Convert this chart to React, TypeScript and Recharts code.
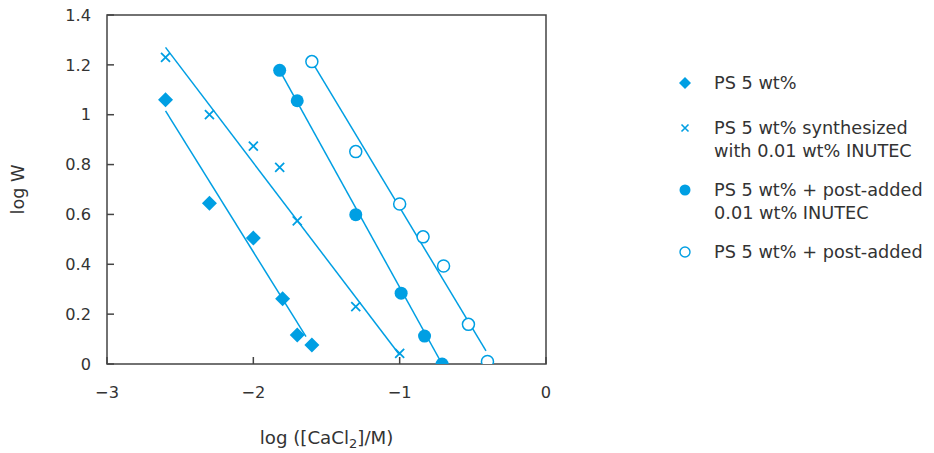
import React from 'react';
import { ScatterChart, Scatter, XAxis, YAxis, ReferenceArea, Label, Legend } from 'recharts';

const BLUE = '#009fe3';
const INK = '#333333';
const FRAME = '#444444';
const FONT = '"DejaVu Sans", "Noto Sans", sans-serif';

// axes
const xTicks = [-3, -2, -1, 0];
const yTicks = [0, 0.2, 0.4, 0.6, 0.8, 1, 1.2, 1.4];

// PS 5 wt%
const ps5 = [
  { x: -2.6, y: 1.06 },
  { x: -2.3, y: 0.645 },
  { x: -2.0, y: 0.505 },
  { x: -1.8, y: 0.262 },
  { x: -1.7, y: 0.116 },
  { x: -1.6, y: 0.076 },
];
const ps5Fit = [
  { x: -2.6, y: 1.015 },
  { x: -1.64, y: 0.11 },
];

// PS 5 wt% synthesized with 0.01 wt% INUTEC
const synth = [
  { x: -2.6, y: 1.23 },
  { x: -2.3, y: 1.0 },
  { x: -2.0, y: 0.874 },
  { x: -1.82, y: 0.789 },
  { x: -1.7, y: 0.574 },
  { x: -1.3, y: 0.23 },
  { x: -1.0, y: 0.043 },
];
const synthFit = [
  { x: -2.6, y: 1.27 },
  { x: -1.0, y: 0.036 },
];

// PS 5 wt% + post-added 0.01 wt% INUTEC
const postInutec = [
  { x: -1.82, y: 1.178 },
  { x: -1.7, y: 1.056 },
  { x: -1.3, y: 0.599 },
  { x: -0.99, y: 0.284 },
  { x: -0.83, y: 0.112 },
  { x: -0.71, y: 0.0 },
];
const postInutecFit = [
  { x: -1.82, y: 1.178 },
  { x: -0.71, y: 0.0 },
];

// PS 5 wt% + post-added
const postAdded = [
  { x: -1.6, y: 1.213 },
  { x: -1.3, y: 0.852 },
  { x: -1.0, y: 0.642 },
  { x: -0.84, y: 0.51 },
  { x: -0.7, y: 0.393 },
  { x: -0.53, y: 0.159 },
  { x: -0.4, y: 0.01 },
];
const postAddedFit = [
  { x: -1.6, y: 1.213 },
  { x: -0.41, y: 0.053 },
];

const legendItems = [
  { kind: 'diamond', lines: ['PS 5 wt%'] },
  { kind: 'cross', lines: ['PS 5 wt% synthesized', 'with 0.01 wt% INUTEC'] },
  { kind: 'dot', lines: ['PS 5 wt% + post-added', '0.01 wt% INUTEC'] },
  { kind: 'ring', lines: ['PS 5 wt% + post-added'] },
];

const Diamond = ({ cx, cy }: any) => (
  <path d={`M${cx},${cy - 7.5}L${cx + 7.5},${cy}L${cx},${cy + 7.5}L${cx - 7.5},${cy}Z`} fill={BLUE} />
);
const Cross = ({ cx, cy }: any) => (
  <path d={`M${cx - 4.5},${cy - 4.5}L${cx + 4.5},${cy + 4.5}M${cx + 4.5},${cy - 4.5}L${cx - 4.5},${cy + 4.5}`} stroke={BLUE} strokeWidth={1.8} />
);
const Dot = ({ cx, cy }: any) => <circle cx={cx} cy={cy} r={6.5} fill={BLUE} />;
const Ring = ({ cx, cy }: any) => <circle cx={cx} cy={cy} r={6} fill="#fff" stroke={BLUE} strokeWidth={1.5} />;
const NoShape = () => <g />;

const legendIcon = (kind: string, cx: number, cy: number) => {
  if (kind === 'diamond')
    return <path d={`M${cx},${cy - 6}L${cx + 6},${cy}L${cx},${cy + 6}L${cx - 6},${cy}Z`} fill={BLUE} />;
  if (kind === 'cross')
    return <path d={`M${cx - 3.5},${cy - 3.5}L${cx + 3.5},${cy + 3.5}M${cx + 3.5},${cy - 3.5}L${cx - 3.5},${cy + 3.5}`} stroke={BLUE} strokeWidth={1.6} />;
  if (kind === 'dot') return <circle cx={cx} cy={cy} r={5.5} fill={BLUE} />;
  return <circle cx={cx} cy={cy} r={5} fill="#fff" stroke={BLUE} strokeWidth={1.4} />;
};

const renderLegend = () => {
  const rows = [23, 68, 130, 192];
  return (
    <svg width={274} height={220} style={{ display: 'block' }}>
      {legendItems.map((item, i) => (
        <g key={i}>
          {legendIcon(item.kind, 25, rows[i])}
          {item.lines.map((line, j) => (
            <text key={j} x={54} y={rows[i] + j * 23} dominantBaseline="central" fontSize={17.7} fill={INK} fontFamily={FONT}>
              {line}
            </text>
          ))}
        </g>
      ))}
    </svg>
  );
};

const XTitle = ({ viewBox }: any) => {
  const cx = viewBox.x + viewBox.width / 2;
  return (
    <text x={cx} y={444} textAnchor="middle" fontSize={18.2} fill={INK} fontFamily={FONT}>
      log ([CaCl<tspan dy={4} fontSize={13}>2</tspan><tspan dy={-4}>]/M)</tspan>
    </text>
  );
};

const fmtX = (v: number) => (v < 0 ? '\u2212' + Math.abs(v) : String(v));

export default function App() {
  const tickStyle = { fontSize: 16.2, fill: INK, fontFamily: FONT };
  return (
    <div style={{ position: 'absolute', left: 0, top: 0, fontFamily: FONT }}>
      <ScatterChart width={934} height={453} margin={{ top: 15, right: 388, bottom: 9, left: 7 }}>
        <XAxis
          type="number"
          dataKey="x"
          domain={[-3, 0]}
          ticks={xTicks}
          tickFormatter={fmtX}
          height={80}
          axisLine={false}
          tickLine={{ stroke: FRAME, strokeWidth: 1.5 }}
          tickSize={-7}
          tickMargin={29}
          tick={tickStyle}
          allowDataOverflow
        >
          <Label content={XTitle} />
        </XAxis>
        <YAxis
          type="number"
          dataKey="y"
          domain={[0, 1.4]}
          ticks={yTicks}
          width={100}
          axisLine={false}
          tickLine={{ stroke: FRAME, strokeWidth: 1.5 }}
          tickSize={-7}
          tickMargin={23}
          tick={tickStyle}
          allowDataOverflow
        >
          <Label
            value="log W"
            angle={-90}
            position="insideLeft"
            offset={11}
            style={{ textAnchor: 'middle', fontSize: 17.7, fill: INK, fontFamily: FONT }}
          />
        </YAxis>
        <ReferenceArea x1={-3} x2={0} y1={0} y2={1.4} fill="none" stroke={FRAME} strokeWidth={1.5} />
        <Scatter data={ps5Fit} line={{ stroke: BLUE, strokeWidth: 1.5 }} shape={NoShape} isAnimationActive={false} legendType="none" />
        <Scatter data={synthFit} line={{ stroke: BLUE, strokeWidth: 1.5 }} shape={NoShape} isAnimationActive={false} legendType="none" />
        <Scatter data={postInutecFit} line={{ stroke: BLUE, strokeWidth: 1.5 }} shape={NoShape} isAnimationActive={false} legendType="none" />
        <Scatter data={postAddedFit} line={{ stroke: BLUE, strokeWidth: 1.5 }} shape={NoShape} isAnimationActive={false} legendType="none" />
        <Scatter name="PS 5 wt%" data={ps5} shape={Diamond} isAnimationActive={false} />
        <Scatter name="PS 5 wt% synthesized with 0.01 wt% INUTEC" data={synth} shape={Cross} isAnimationActive={false} />
        <Scatter name="PS 5 wt% + post-added 0.01 wt% INUTEC" data={postInutec} shape={Dot} isAnimationActive={false} />
        <Scatter name="PS 5 wt% + post-added" data={postAdded} shape={Ring} isAnimationActive={false} />
        <Legend
          layout="vertical"
          align="center"
          verticalAlign="middle"
          content={renderLegend}
          wrapperStyle={{ left: 660, top: 60, width: 274, height: 220 }}
        />
      </ScatterChart>
    </div>
  );
}
